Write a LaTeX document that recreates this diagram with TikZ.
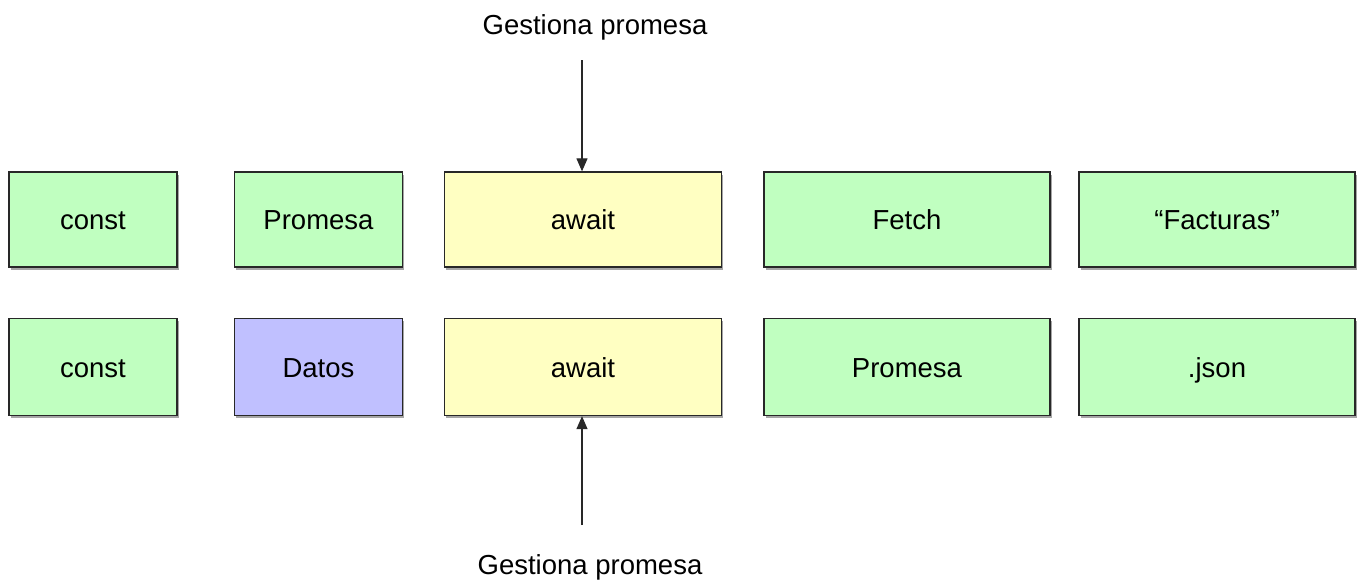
\documentclass[tikz,border=0pt]{standalone}
\usepackage{fontspec}
\setmainfont{Liberation Sans}
\usetikzlibrary{shadows,arrows.meta}
\definecolor{boxgreen}{RGB}{192,255,192}
\definecolor{boxyellow}{RGB}{255,255,194}
\definecolor{boxblue}{RGB}{192,192,255}
\definecolor{edge}{RGB}{40,40,40}
\tikzset{
  tok/.style={draw=edge, line width=1.3pt, rectangle, inner sep=0pt,
    font=\fontsize{27.5}{33}\selectfont, text=black,
    text height=26pt, text depth=5.5pt,
    drop shadow={shadow xshift=1.5pt, shadow yshift=-2.5pt, opacity=0.35, fill=black}},
  green/.style={tok, fill=boxgreen},
  yellow/.style={tok, fill=boxyellow},
  blue/.style={tok, fill=boxblue},
  lbl/.style={font=\fontsize{27.5}{33}\selectfont, text=black, inner sep=0pt},
  arr/.style={draw=edge, line width=1.2pt, -{Triangle[width=11pt,length=13pt]}}
}
\begin{document}
\begin{tikzpicture}[x=1pt,y=-1pt]
\useasboundingbox[fill=white] (0,0) rectangle (1362,582);
% row 1
\node[green, minimum width=168pt, minimum height=95pt] (c1) at (93,219.5) {const};
\node[green, minimum width=168pt, minimum height=95pt] (p1) at (318.5,219.5) {Promesa};
\node[yellow, minimum width=277pt, minimum height=95pt] (a1) at (583,219.5) {await};
\node[green, minimum width=286pt, minimum height=95pt] (f1) at (907,219.5) {Fetch};
\node[green, minimum width=276pt, minimum height=95pt] (q1) at (1217,219.5) {“Facturas”};
% row 2
\node[green, minimum width=168pt, minimum height=97pt] (c2) at (93,367) {const};
\node[blue, minimum width=168pt, minimum height=97pt] (d2) at (318.5,367) {Datos};
\node[yellow, minimum width=277pt, minimum height=97pt] (a2) at (583,367) {await};
\node[green, minimum width=286pt, minimum height=97pt] (p2) at (907,367) {Promesa};
\node[green, minimum width=276pt, minimum height=97pt] (j2) at (1217,367) {.json};
% labels
\node[lbl] (gt) at (595,27) {Gestiona promesa};
\node[lbl] (gb) at (590,567) {Gestiona promesa};
\coordinate (st) at (582,60);
\coordinate (sb) at (582,525);
\draw[arr] (st) -- (st |- a1.north);
\draw[arr] (sb) -- (sb |- a2.south);
\end{tikzpicture}
\end{document}
